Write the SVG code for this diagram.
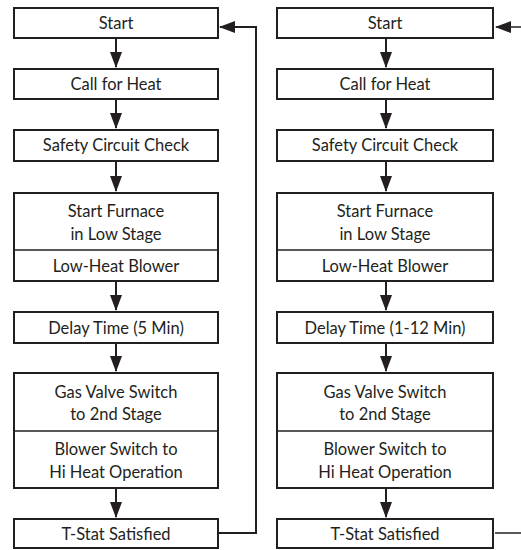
<svg xmlns="http://www.w3.org/2000/svg" width="521" height="550" viewBox="0 0 521 550">
<style>
.box{fill:#fff;stroke:#231f20;stroke-width:2}
.div{stroke:#231f20;stroke-width:1.5}
.t{font-family:Lato,"Open Sans",sans-serif;font-size:16.5px;fill:#231f20;text-anchor:middle}
.c{fill:none;stroke:#231f20;stroke-width:2}
.c1{fill:none;stroke:#231f20;stroke-width:1.5}
</style>
<defs>
<marker id="ah" markerUnits="userSpaceOnUse" markerWidth="16" markerHeight="12" refX="15" refY="6" viewBox="0 0 16 12" orient="auto">
<path d="M0,0 L16,6 L0,12 Z" fill="#231f20"/>
</marker>
</defs>
<g id="connectors">
<line class="c" x1="116" y1="39" x2="116" y2="67" marker-end="url(#ah)"/>
<line class="c" x1="116" y1="100" x2="116" y2="128" marker-end="url(#ah)"/>
<line class="c" x1="116" y1="162" x2="116" y2="191" marker-end="url(#ah)"/>
<line class="c" x1="116" y1="282" x2="116" y2="310" marker-end="url(#ah)"/>
<line class="c" x1="116" y1="344" x2="116" y2="371" marker-end="url(#ah)"/>
<line class="c" x1="116" y1="489" x2="116" y2="517" marker-end="url(#ah)"/>
<polyline class="c" points="219,533 256,533 256,27 220,27" marker-end="url(#ah)"/>
<line class="c" x1="386" y1="39" x2="386" y2="67" marker-end="url(#ah)"/>
<line class="c" x1="386" y1="100" x2="386" y2="128" marker-end="url(#ah)"/>
<line class="c" x1="386" y1="162" x2="386" y2="191" marker-end="url(#ah)"/>
<line class="c" x1="386" y1="282" x2="386" y2="310" marker-end="url(#ah)"/>
<line class="c" x1="386" y1="344" x2="386" y2="371" marker-end="url(#ah)"/>
<line class="c" x1="386" y1="489" x2="386" y2="517" marker-end="url(#ah)"/>
<line class="c1" x1="495" y1="533" x2="521" y2="533"/>
<line class="c1" x1="521" y1="27" x2="496" y2="27" marker-end="url(#ah)"/>
</g>
<g id="L-start"><rect class="box" x="14" y="8" width="204" height="30"/><text class="t" x="116" y="29">Start</text></g>
<g id="L-call"><rect class="box" x="14" y="69" width="204" height="30"/><text class="t" x="116" y="90">Call for Heat</text></g>
<g id="L-safety"><rect class="box" x="14" y="130" width="204" height="31"/><text class="t" x="116" y="151">Safety Circuit Check</text></g>
<g id="L-furnace"><rect class="box" x="14" y="193" width="204" height="88"/><line class="div" x1="14" y1="250" x2="218" y2="250"/><text class="t" x="116" y="217">Start Furnace</text><text class="t" x="116" y="240">in Low Stage</text><text class="t" x="116" y="272">Low-Heat Blower</text></g>
<g id="L-delay"><rect class="box" x="14" y="312" width="204" height="31"/><text class="t" x="116" y="334">Delay Time (5 Min)</text></g>
<g id="L-gas"><rect class="box" x="14" y="373" width="204" height="115"/><line class="div" x1="14" y1="431" x2="218" y2="431"/><text class="t" x="116" y="398">Gas Valve Switch</text><text class="t" x="116" y="420">to 2nd Stage</text><text class="t" x="116" y="455">Blower Switch to</text><text class="t" x="116" y="478">Hi Heat Operation</text></g>
<g id="L-tstat"><rect class="box" x="14" y="519" width="204" height="29"/><text class="t" x="116" y="540">T-Stat Satisfied</text></g>
<g id="R-start"><rect class="box" x="277" y="8" width="216" height="30"/><text class="t" x="385" y="29">Start</text></g>
<g id="R-call"><rect class="box" x="277" y="69" width="216" height="30"/><text class="t" x="385" y="90">Call for Heat</text></g>
<g id="R-safety"><rect class="box" x="277" y="130" width="216" height="31"/><text class="t" x="385" y="151">Safety Circuit Check</text></g>
<g id="R-furnace"><rect class="box" x="277" y="193" width="216" height="88"/><line class="div" x1="277" y1="250" x2="493" y2="250"/><text class="t" x="385" y="217">Start Furnace</text><text class="t" x="385" y="240">in Low Stage</text><text class="t" x="385" y="272">Low-Heat Blower</text></g>
<g id="R-delay"><rect class="box" x="277" y="312" width="216" height="31"/><text class="t" x="385" y="334">Delay Time (1-12 Min)</text></g>
<g id="R-gas"><rect class="box" x="277" y="373" width="216" height="115"/><line class="div" x1="277" y1="431" x2="493" y2="431"/><text class="t" x="385" y="398">Gas Valve Switch</text><text class="t" x="385" y="420">to 2nd Stage</text><text class="t" x="385" y="455">Blower Switch to</text><text class="t" x="385" y="478">Hi Heat Operation</text></g>
<g id="R-tstat"><rect class="box" x="277" y="519" width="216" height="29"/><text class="t" x="385" y="540">T-Stat Satisfied</text></g>
</svg>
